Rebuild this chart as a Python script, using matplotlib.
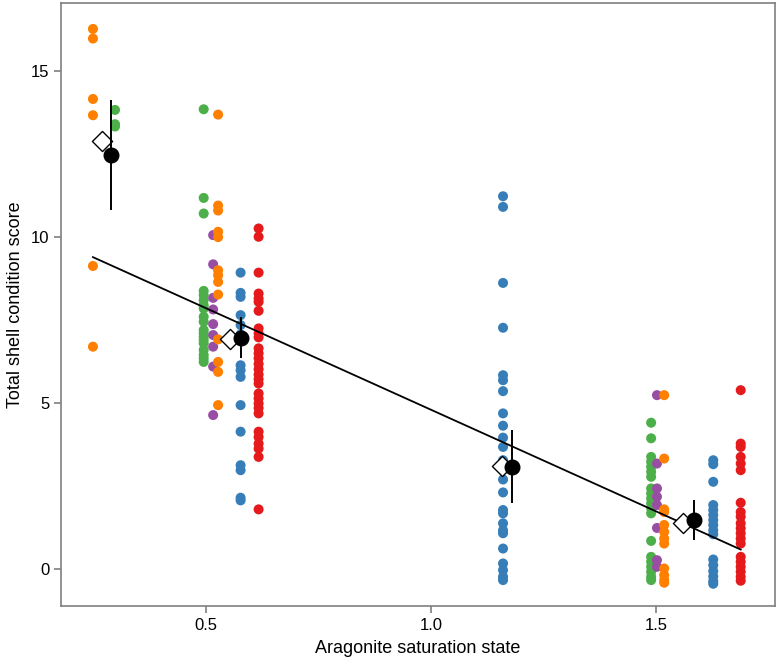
import matplotlib
matplotlib.use("Agg")
import numpy as np
import matplotlib.pyplot as plt

plt.rcParams['font.family'] = ['Liberation Sans Narrow', 'Liberation Sans', 'DejaVu Sans']

# colours (ColorBrewer Set1)
RED, BLUE, GREEN, PURPLE, ORANGE = '#E41A1C', '#377EB8', '#4DAF4A', '#984EA3', '#FF7F00'

# saturation state of each group of samples, and scores
x_orange_a = 0.249
orange_a = [16.27, 15.98, 14.16, 13.67, 9.13, 6.70]
x_green_a = 0.298
green_a = [13.83, 13.40, 13.33]

x_green_b = 0.495
green_b = [13.85, 11.18, 10.71, 8.38, 8.25, 8.10, 7.95, 7.85, 7.60, 7.45, 7.20,
           7.10, 7.00, 6.90, 6.80, 6.60, 6.45, 6.35, 6.24]
x_purple_b = 0.516
purple_b = [10.06, 9.18, 8.17, 7.82, 7.38, 7.05, 6.70, 6.10, 4.64]
x_orange_b = 0.527
orange_b = [13.69, 10.95, 10.80, 10.16, 10.00, 9.00, 8.85, 8.65, 8.27, 6.92,
            6.24, 5.94, 4.94]
x_blue_b = 0.577
blue_b = [8.93, 8.32, 8.20, 7.65, 7.35, 7.07, 6.90, 6.14, 5.99, 5.79, 4.94,
          4.14, 3.13, 2.98, 2.15, 2.07]
x_red_b = 0.617
red_b = [10.26, 10.01, 8.93, 8.30, 8.15, 8.05, 7.78, 7.25, 7.10, 6.98, 6.65,
         6.50, 6.35, 6.18, 6.02, 5.86, 5.72, 5.59, 5.29, 5.14, 4.99, 4.85,
         4.69, 4.14, 3.98, 3.78, 3.63, 3.38, 1.80]

x_blue_c = 1.160
blue_c = [11.23, 10.91, 8.62, 7.27, 5.84, 5.69, 5.36, 4.69, 4.32, 3.96, 3.68,
          3.28, 3.00, 2.70, 2.31, 1.78, 1.68, 1.38, 1.17, 1.08, 0.62, 0.17,
          -0.03, -0.23, -0.33]

x_green_d = 1.489
green_d = [4.41, 3.94, 3.38, 3.23, 3.08, 2.93, 2.78, 2.43, 2.28, 2.13, 1.98,
           1.83, 1.68, 0.85, 0.37, 0.22, 0.07, -0.08, -0.23, -0.33]
x_purple_d = 1.502
purple_d = [5.24, 3.18, 2.43, 2.18, 1.93, 1.24, 0.27, 0.07]
x_orange_d = 1.518
orange_d = [5.24, 3.33, 1.80, 1.72, 1.33, 1.12, 0.92, 0.77, 0.02, -0.18,
            -0.33, -0.41]
x_blue_d = 1.627
blue_d = [3.28, 3.16, 2.63, 1.93, 1.78, 1.63, 1.48, 1.33, 1.17, 1.05, 0.29,
          0.12, -0.06, -0.22, -0.36, -0.44]
x_red_d = 1.688
red_d = [5.39, 3.78, 3.68, 3.38, 3.18, 2.98, 2.00, 1.72, 1.58, 1.38, 1.23,
         1.08, 0.92, 0.77, 0.37, 0.22, 0.07, -0.08, -0.23, -0.35]

# model estimates (black dots with intervals) and raw means (diamonds)
est_x = [0.289, 0.578, 1.180, 1.584]
est_y = [12.47, 6.96, 3.08, 1.48]
est_lo = [10.81, 6.36, 1.99, 0.88]
est_hi = [14.13, 7.60, 4.19, 2.09]
mean_x = [0.269, 0.553, 1.157, 1.560]
mean_y = [12.89, 6.93, 3.11, 1.40]

# linear fit
fit_intercept = 10.92
fit_slope = -6.12
fit_range = (0.249, 1.688)

series = [
    (x_orange_a, orange_a, ORANGE), (x_green_a, green_a, GREEN),
    (x_green_b, green_b, GREEN), (x_purple_b, purple_b, PURPLE),
    (x_orange_b, orange_b, ORANGE), (x_blue_b, blue_b, BLUE),
    (x_red_b, red_b, RED), (x_blue_c, blue_c, BLUE),
    (x_green_d, green_d, GREEN), (x_purple_d, purple_d, PURPLE),
    (x_orange_d, orange_d, ORANGE), (x_blue_d, blue_d, BLUE),
    (x_red_d, red_d, RED),
]

fig = plt.figure(figsize=(7.76, 6.71), dpi=100)
ax = fig.add_axes([0.0786, 0.0969, 0.92, 0.8986])

for xv, ys, col in series:
    ax.scatter(np.full(len(ys), xv), ys, s=52, color=col, edgecolors='none', zorder=2)

xf = np.linspace(*fit_range, 50)
ax.plot(xf, fit_intercept + fit_slope * xf, color='black', lw=1.3, zorder=3)

yerr = [np.array(est_y) - np.array(est_lo), np.array(est_hi) - np.array(est_y)]
ax.errorbar(est_x, est_y, yerr=yerr, fmt='o', color='black', ms=10.5,
            elinewidth=1.4, capsize=0, zorder=5)
ax.scatter(mean_x, mean_y, marker='D', s=105, facecolors='white',
           edgecolors='black', linewidths=1.0, zorder=4)

ax.set_xlim(0.178, 1.764)
ax.set_ylim(-1.11, 17.05)
ax.set_xticks([0.5, 1.0, 1.5])
ax.set_xticklabels(['0.5', '1.0', '1.5'])
ax.set_yticks([0, 5, 10, 15])
for sp in ax.spines.values():
    sp.set_color('#7f7f7f')
    sp.set_linewidth(1.2)
ax.tick_params(colors='#7f7f7f', labelcolor='black', labelsize=12, length=5, width=1.2)
ax.set_xlabel('Aragonite saturation state', fontsize=13, labelpad=5)
ax.set_ylabel('Total shell condition score', fontsize=13, labelpad=5)

fig.savefig('out.png', dpi=100)
